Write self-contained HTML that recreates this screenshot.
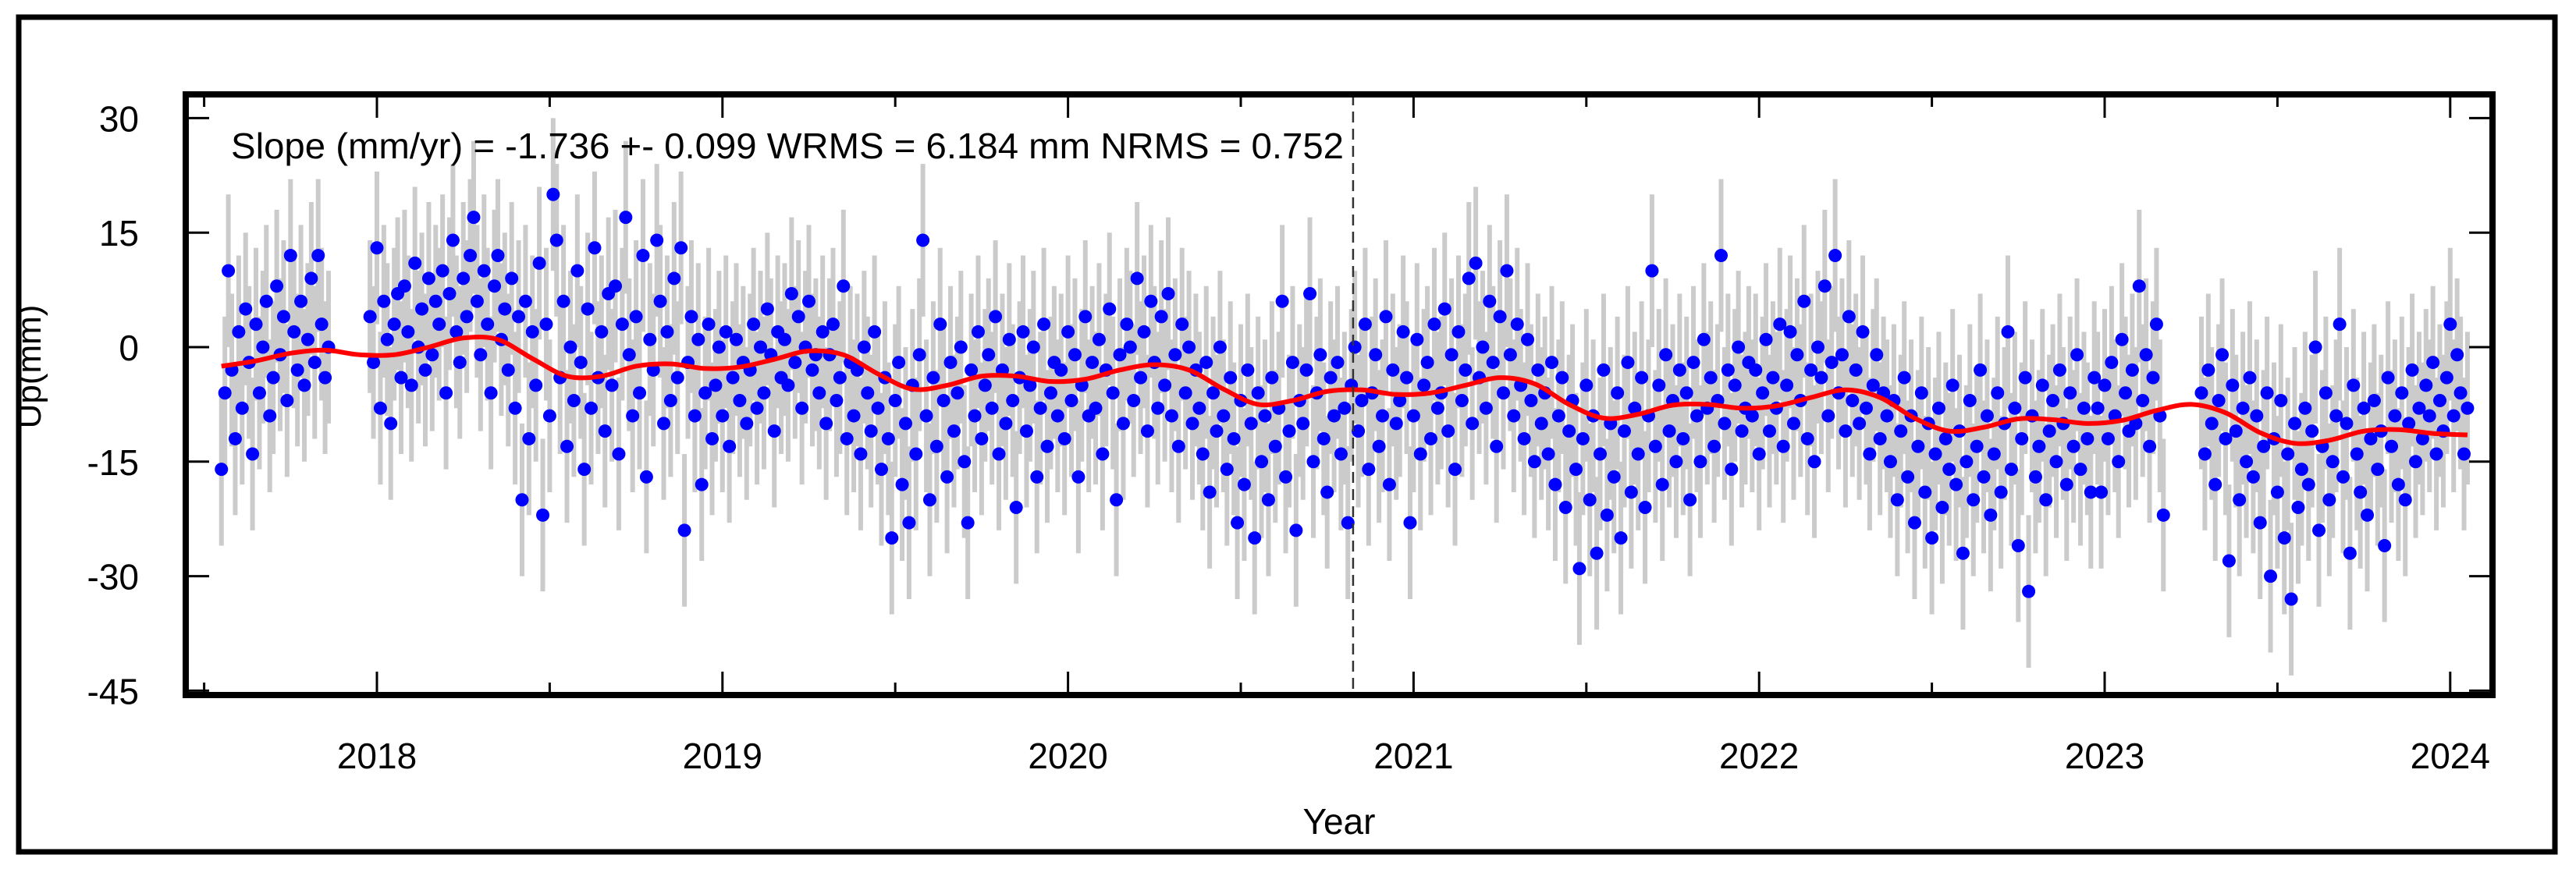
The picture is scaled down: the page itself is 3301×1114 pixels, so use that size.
<!DOCTYPE html>
<html><head><meta charset="utf-8"><title>Up time series</title>
<style>html,body{margin:0;padding:0;background:#fff;}svg{display:block;font-family:"Liberation Sans",Arial,sans-serif;}</style>
</head><body>
<svg id="chart" width="3301" height="1114" viewBox="0 0 3301 1114" xmlns="http://www.w3.org/2000/svg">
<rect x="0" y="0" width="3301" height="1114" fill="#fff"/>
<rect x="24" y="22" width="3250" height="1070" fill="none" stroke="#000" stroke-width="7"/>
<g id="marks"></g>
<g id="axes"></g>
</svg>
<script>
const segStarts = [2017.55, 2017.98, 2023.28];
const seg1Values = [-16,-6,10,-3,-12,2,-8,5,-2,-14,3,-6,0,6,-9,-4,8,-1,4,-7,12,2,-3,6,-5,1,9,-2,12,3,-4,0];
const seg2Values = [
4,-2,13,-8,6,1,-10,3,7,-4, 8,2,-5,11,0,5,-3,9,-1,6, 3,10,-6,7,14,2,-2,9,4,12, 17,6,-1,10,3,-6,8,12,1,5,
-3,9,-8,4,-20,6,-12,2,-5,11, -22,3,-9,20,14,-4,6,-13,0,-7, 10,-2,-16,5,-8,13,-4,2,-11,7, -5,8,-14,3,17,-1,-9,4,-6,12,
-17,1,-3,14,6,-10,2,-7,9,-4, 13,-24,-2,4,-9,1,-18,-6,3,-12,
-5,0,-9,2,-13,-4,1,-7,-2,-10, -3,3,-8,0,-6,5,-1,-11,2,-4, 1,-5,7,-2,4,-8,0,6,-3,-1, -6,2,-10,-1,3,-7,-4,8,-12,-2,
-9,-3,-14,0,-6,-11,2,-8,-16,-4, -12,-25,-7,-2,-18,-10,-23,-5,-14,-1, 14,-9,-20,-4,-13,3,-7,-17,-2,-11, -6,0,-15,-23,-3,-9,2,-12,-5,-1,
-8,4,-14,-3,-10,1,-7,-21,-4,2, -11,-5,0,-17,-8,3,-13,-6,-2,-9,
-3,-12,2,-7,-1,-17,-5,4,-9,-2, -8,1,-14,-3,5,-6,-20,-1,-10,3, 0,-7,9,-4,2,-11,6,-2,-8,4, -5,7,-9,-1,-13,3,-6,0,-10,-3,
-8,-14,-2,-19,-6,-11,0,-9,-16,-4, -12,-23,-7,-18,-3,-10,-25,-6,-15,-9, -20,-4,-13,-8,6,-17,-11,-2,-24,-7, -10,-3,7,-15,-6,-1,-12,-19,-4,-9,
-2,-14,-8,-23,-5,0,-11,-7,3,-16, -6,-1,-13,-9,4,-18,-3,-10,-7,2,
-4,-23,-9,1,-14,-5,-2,-12,3,-8, -6,5,-11,-1,-16,2,-7,-3,9,-10, 11,-4,0,-8,6,-2,-13,4,-6,10, -1,-9,3,-5,-12,1,-7,-15,-3,-10,
-6,-14,-2,-18,-9,-4,-21,-11,-7,-16, -29,-12,-5,-20,-9,-27,-14,-3,-22,-10, -17,-6,-25,-11,-2,-19,-8,-14,-4,-21, -9,10,-13,-5,-18,-1,-11,-7,-15,-3,
-12,-6,-20,-2,-9,-15,1,-8,-4,-13, -7,12,-10,-3,-16,-5,0,-11,-8,-2,
-9,-3,-14,-6,1,-11,-4,-8,3,-13, -5,2,-10,-1,-7,6,-12,-3,-15,0, -4,8,-9,-2,12,-6,-1,-11,4,-7, -3,-10,2,-8,-14,-5,-1,-12,-6,-9,
-15,-7,-20,-11,-4,-17,-9,-23,-13,-6, -19,-10,-25,-14,-8,-21,-12,-16,-5,-18, -11,-27,-15,-7,-20,-13,-3,-17,-9,-22, -14,-6,-19,-10,2,-16,-8,-26,-12,-4,
-32,-9,-17,-13,-5,-20,-11,-7,-15,-3, -10,-18,-6,-13,-1,-16,-8,-12,-19,-4,
-8,-19,-5,-12,-2,-9,-15,1,-6,-11, -3,-10,8,-7,-1,-13,-4,3,-9,-22];
const seg3Values = [
-6,-14,-3,-10,-18,-7,-1,-12,-28,-5, -11,-20,-8,-15,-4,-17,-9,-23,-13,-6, -30,-12,-19,-7,-25,-14,-33,-10,-21,-16,
-8,-18,-11,0,-24,-13,-6,-20,-15,-9, 3,-17,-10,-27,-5,-14,-19,-8,-22,-12, -7,-16,-11,-26,-4,-13,-9,-18,-6,-20,
-10,-3,-15,-8,-12,-5,-9,-2,-14,-7, -11,-4,3,-9,-1,-6,-14,-8];
const sampleStep = 0.01;
const errorSigma = 10;
const modelYears = [2017.55,2017.65,2017.75,2017.85,2017.95,
2018.05,2018.15,2018.25,2018.35,2018.45,2018.55,2018.65,2018.75,2018.85,2018.95,
2019.05,2019.15,2019.25,2019.35,2019.45,2019.55,2019.65,2019.75,2019.85,2019.95,
2020.05,2020.15,2020.25,2020.35,2020.45,2020.55,2020.65,2020.75,2020.85,2020.95,
2021.05,2021.15,2021.25,2021.35,2021.45,2021.55,2021.65,2021.75,2021.85,2021.95,
2022.05,2022.15,2022.25,2022.35,2022.45,2022.55,2022.65,2022.75,2022.85,2022.95,
2023.05,2023.15,2023.25,2023.35,2023.45,2023.55,2023.65,2023.75,2023.85,2023.95,2024.05];
const modelValues = [-2.5,-1.8,-0.8,-0.4,-1.0,
-1.0,0.0,1.2,1.0,-1.5,-3.8,-3.8,-2.5,-2.2,-2.8,
-2.6,-1.6,-0.5,-1.0,-3.5,-5.5,-5.0,-3.8,-3.8,-4.5,
-4.2,-3.0,-2.3,-3.0,-5.5,-7.5,-7.0,-5.8,-5.6,-6.2,
-6.0,-5.0,-4.0,-4.8,-7.5,-9.3,-8.8,-7.6,-7.5,-8.0,
-7.7,-6.6,-5.6,-6.6,-9.3,-11.0,-10.5,-9.4,-9.5,-10.0,
-9.6,-8.3,-7.5,-8.6,-11.2,-12.6,-12.2,-11.0,-10.8,-11.3,-11.5];
const yTicks = [30,15,0,-15,-30,-45];
const xTickYears = [2018,2019,2020,2021,2022,2023,2024];
const breakEpoch = 2020.825;
const slopeText = "Slope (mm/yr) = -1.736 +- 0.099 WRMS = 6.184 mm NRMS = 0.752";

const L=238,R=3194,T=121,B=891;
const xS = y => 483 + (y-2018)*442.8;
const yS = v => 445 - v*9.787;
const NS='http://www.w3.org/2000/svg';
const marks=document.getElementById('marks'), axes=document.getElementById('axes');
function mk(tag, attrs, parent){const e=document.createElementNS(NS,tag);for(const k in attrs)e.setAttribute(k,attrs[k]);parent.appendChild(e);return e;}

const segs=[seg1Values,seg2Values,seg3Values];
const pts=[];
segs.forEach((vals,si)=>vals.forEach((v,i)=>pts.push([segStarts[si]+i*sampleStep, v])));
const eg=mk('g',{},marks);


pts.forEach(p=>{
  const e=mk('line',{x1:xS(p[0]),x2:xS(p[0]),y1:Math.max(T,yS(p[1]+errorSigma)),y2:Math.min(B,yS(p[1]-errorSigma)),stroke:'#cbcbcb','stroke-width':6},eg);
  
  
});
const dg=mk('g',{},marks);


pts.forEach(p=>{
  const c=mk('circle',{cx:xS(p[0]),cy:yS(p[1]),r:8.5,fill:'#0000ff'},dg);
  
  
});
const mp=modelYears.map((y,i)=>[xS(y),yS(modelValues[i])]);
let d='M'+mp[0][0]+','+mp[0][1];
for(let i=0;i<mp.length-1;i++){
  const p0=mp[Math.max(0,i-1)],p1=mp[i],p2=mp[i+1],p3=mp[Math.min(mp.length-1,i+2)];
  d+=' C'+(p1[0]+(p2[0]-p0[0])/6)+','+(p1[1]+(p2[1]-p0[1])/6)+' '+(p2[0]-(p3[0]-p1[0])/6)+','+(p2[1]-(p3[1]-p1[1])/6)+' '+p2[0]+','+p2[1];
}
const ml=mk('path',{d:d,fill:'none',stroke:'#ff0000','stroke-width':6},marks);


const bl=mk('line',{x1:xS(breakEpoch),x2:xS(breakEpoch),y1:T,y2:B,stroke:'#333','stroke-width':2.5,'stroke-dasharray':'14,8'},marks);



const fr=mk('rect',{x:L,y:T,width:R-L,height:B-T,fill:'none',stroke:'#000','stroke-width':8},axes);


yTicks.forEach(v=>{
  const y=yS(v);
  const t1=mk('line',{x1:L,x2:L+30,y1:y,y2:y,stroke:'#000','stroke-width':3},axes);
  
  
  const t2=mk('line',{x1:R-30,x2:R,y1:y,y2:y,stroke:'#000','stroke-width':3},axes);
  
  
  const lb=mk('text',{x:178,y:y+17,'text-anchor':'end','font-size':46,fill:'#000'},axes);
  lb.textContent=String(v);
  
  
});
for(let y2=2017.5;y2<=2024.01;y2+=0.5){
  const major=Math.abs(y2-Math.round(y2))<0.01;
  const x=xS(y2); const len=major?30:16;
  const a=mk('line',{x1:x,x2:x,y1:B-len,y2:B,stroke:'#000','stroke-width':3},axes);
  
  
  const b=mk('line',{x1:x,x2:x,y1:T,y2:T+len,stroke:'#000','stroke-width':3},axes);
  
  
}
xTickYears.forEach(yr=>{
  const lb=mk('text',{x:xS(yr),y:985,'text-anchor':'middle','font-size':46,fill:'#000'},axes);
  lb.textContent=String(yr);
  
  
});
const xt=mk('text',{x:1716,y:1069,'text-anchor':'middle','font-size':46,fill:'#000'},axes);
xt.textContent='Year';


const yt=mk('text',{x:0,y:0,'text-anchor':'middle','font-size':44,fill:'#000',transform:'translate(52,470) rotate(-90)'},axes);
yt.textContent='Up(mm)';


const st=mk('text',{x:296,y:203,'font-size':46,fill:'#000',textLength:1426,lengthAdjust:'spacingAndGlyphs'},axes);
st.textContent=slopeText;


</script>
</body></html>
